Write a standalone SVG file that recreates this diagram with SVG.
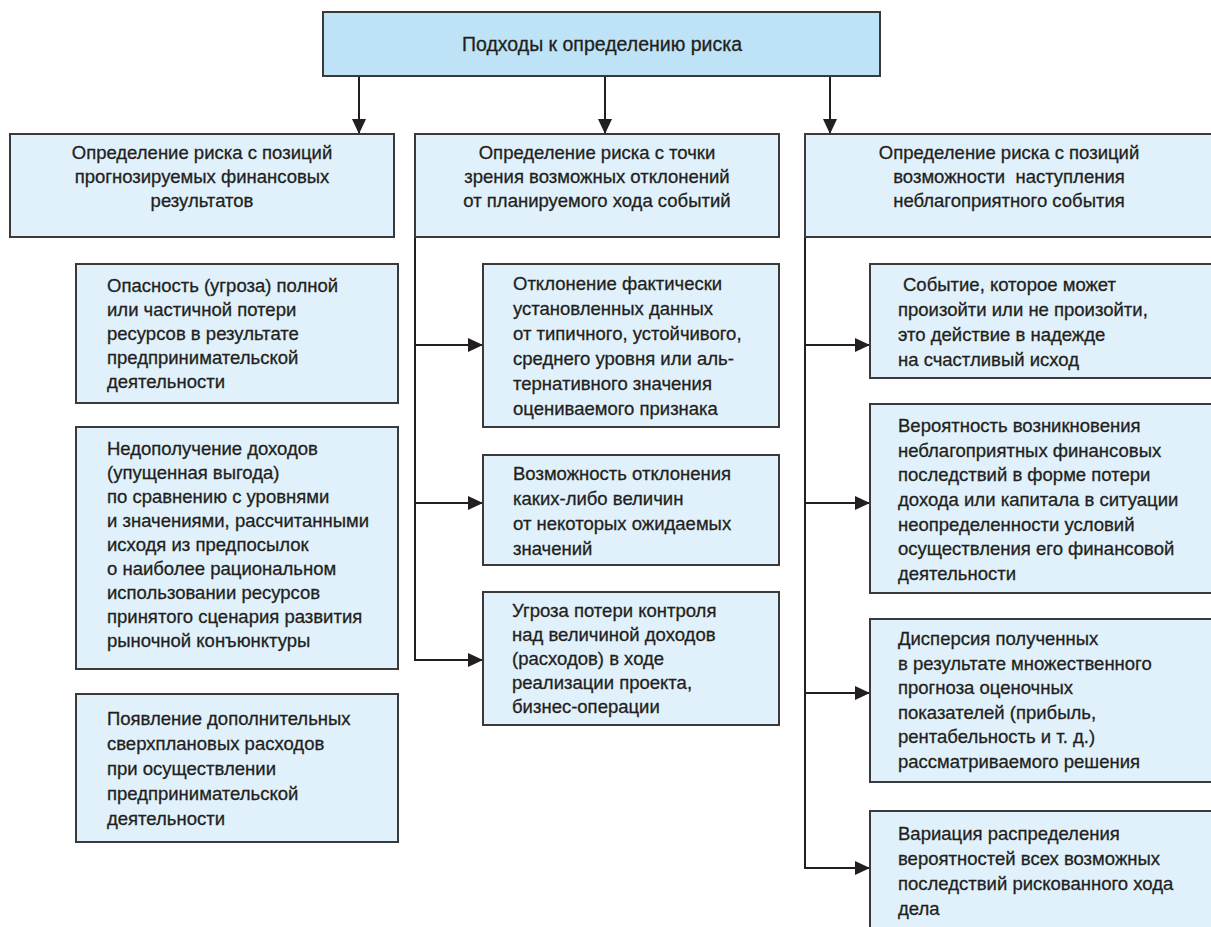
<svg xmlns="http://www.w3.org/2000/svg" width="1211" height="927" viewBox="0 0 1211 927">
<defs>
<style>
.box{fill:#e0f1fb;stroke:#3a3a3a;stroke-width:2}
.top{fill:#bee3f6;stroke:#3a3a3a;stroke-width:2}
text{font-family:"Liberation Sans","Noto Sans",Arial,sans-serif;font-size:18.5px;fill:#231f20;stroke:#231f20;stroke-width:0.3}
.c{text-anchor:middle}
.t{font-size:19.5px}
.ln{fill:none;stroke:#231f20;stroke-width:2}
</style>
<marker id="ah" markerUnits="userSpaceOnUse" markerWidth="16" markerHeight="14" refX="15" refY="7" orient="auto">
<path d="M0,0 L15,7 L0,14 Z" fill="#231f20"/>
</marker>
</defs>
<rect width="1211" height="927" fill="#ffffff"/>

<g id="connectors">
<line class="ln" x1="359" y1="76" x2="359" y2="134" marker-end="url(#ah)"/>
<line class="ln" x1="605" y1="76" x2="605" y2="134" marker-end="url(#ah)"/>
<line class="ln" x1="830" y1="76" x2="830" y2="134" marker-end="url(#ah)"/>
<polyline class="ln" points="415,237 415,660"/>
<line class="ln" x1="415" y1="345" x2="483" y2="345" marker-end="url(#ah)"/>
<line class="ln" x1="415" y1="503" x2="483" y2="503" marker-end="url(#ah)"/>
<line class="ln" x1="414" y1="660" x2="483" y2="660" marker-end="url(#ah)"/>
<polyline class="ln" points="805,237 805,868"/>
<line class="ln" x1="805" y1="345" x2="870" y2="345" marker-end="url(#ah)"/>
<line class="ln" x1="805" y1="503" x2="870" y2="503" marker-end="url(#ah)"/>
<line class="ln" x1="805" y1="693" x2="870" y2="693" marker-end="url(#ah)"/>
<line class="ln" x1="804" y1="868" x2="870" y2="868" marker-end="url(#ah)"/>
</g>

<g id="root">
<rect class="top" x="323" y="12" width="557" height="64"/>
<text class="c t" x="602" y="51">Подходы к определению риска</text>
</g>

<g id="h1">
<rect class="box" x="10" y="134" width="384" height="103"/>
<text class="c" x="202" y="159">Определение риска с позиций</text>
<text class="c" x="202" y="183">прогнозируемых финансовых</text>
<text class="c" x="202" y="207">результатов</text>
</g>

<g id="h2">
<rect class="box" x="415" y="134" width="364" height="103"/>
<text class="c" x="597" y="159">Определение риска с точки</text>
<text class="c" x="597" y="183">зрения возможных отклонений</text>
<text class="c" x="597" y="207">от планируемого хода событий</text>
</g>

<g id="h3">
<rect class="box" x="805" y="134" width="410" height="103"/>
<text class="c" x="1009" y="159">Определение риска с позиций</text>
<text class="c" x="1009" y="183" style="white-space:pre">возможности  наступления</text>
<text class="c" x="1009" y="207">неблагоприятного события</text>
</g>

<g id="l1">
<rect class="box" x="76" y="264" width="322" height="139"/>
<text x="107" y="292">Опасность (угроза) полной</text>
<text x="107" y="316">или частичной потери</text>
<text x="107" y="340">ресурсов в результате</text>
<text x="107" y="364">предпринимательской</text>
<text x="107" y="388">деятельности</text>
</g>

<g id="l2">
<rect class="box" x="76" y="427" width="322" height="242"/>
<text x="107" y="455">Недополучение доходов</text>
<text x="107" y="479">(упущенная выгода)</text>
<text x="107" y="503">по сравнению с уровнями</text>
<text x="107" y="527">и значениями, рассчитанными</text>
<text x="107" y="551">исходя из предпосылок</text>
<text x="107" y="575">о наиболее рациональном</text>
<text x="107" y="599">использовании ресурсов</text>
<text x="107" y="623">принятого сценария развития</text>
<text x="107" y="647">рыночной конъюнктуры</text>
</g>

<g id="l3">
<rect class="box" x="76" y="694" width="322" height="148"/>
<text x="107" y="725">Появление дополнительных</text>
<text x="107" y="750">сверхплановых расходов</text>
<text x="107" y="775">при осуществлении</text>
<text x="107" y="800">предпринимательской</text>
<text x="107" y="825">деятельности</text>
</g>

<g id="m1">
<rect class="box" x="483" y="264" width="296" height="163"/>
<text x="513" y="290">Отклонение фактически</text>
<text x="513" y="315">установленных данных</text>
<text x="513" y="340">от типичного, устойчивого,</text>
<text x="513" y="365">среднего уровня или аль-</text>
<text x="513" y="390">тернативного значения</text>
<text x="513" y="415">оцениваемого признака</text>
</g>

<g id="m2">
<rect class="box" x="483" y="455" width="296" height="110"/>
<text x="513" y="480">Возможность отклонения</text>
<text x="513" y="505">каких-либо величин</text>
<text x="513" y="530">от некоторых ожидаемых</text>
<text x="513" y="555">значений</text>
</g>

<g id="m3">
<rect class="box" x="483" y="592" width="296" height="133"/>
<text x="512" y="617">Угроза потери контроля</text>
<text x="512" y="641">над величиной доходов</text>
<text x="512" y="665">(расходов) в ходе</text>
<text x="512" y="689">реализации проекта,</text>
<text x="512" y="713">бизнес-операции</text>
</g>

<g id="r1">
<rect class="box" x="870" y="264" width="345" height="114"/>
<text x="903" y="291">Событие, которое может</text>
<text x="898" y="316">произойти или не произойти,</text>
<text x="898" y="341">это действие в надежде</text>
<text x="898" y="366">на счастливый исход</text>
</g>

<g id="r2">
<rect class="box" x="870" y="404" width="345" height="189"/>
<text x="898" y="432">Вероятность возникновения</text>
<text x="898" y="457">неблагоприятных финансовых</text>
<text x="898" y="481">последствий в форме потери</text>
<text x="898" y="506">дохода или капитала в ситуации</text>
<text x="898" y="531">неопределенности условий</text>
<text x="898" y="555">осуществления его финансовой</text>
<text x="898" y="580">деятельности</text>
</g>

<g id="r3">
<rect class="box" x="870" y="619" width="345" height="163"/>
<text x="898" y="645">Дисперсия полученных</text>
<text x="898" y="670">в результате множественного</text>
<text x="898" y="694">прогноза оценочных</text>
<text x="898" y="719">показателей (прибыль,</text>
<text x="898" y="743">рентабельность и т. д.)</text>
<text x="898" y="768">рассматриваемого решения</text>
</g>

<g id="r4">
<rect class="box" x="870" y="811" width="345" height="120"/>
<text x="898" y="840">Вариация распределения</text>
<text x="898" y="865">вероятностей всех возможных</text>
<text x="898" y="890">последствий рискованного хода</text>
<text x="898" y="915">дела</text>
</g>
</svg>
